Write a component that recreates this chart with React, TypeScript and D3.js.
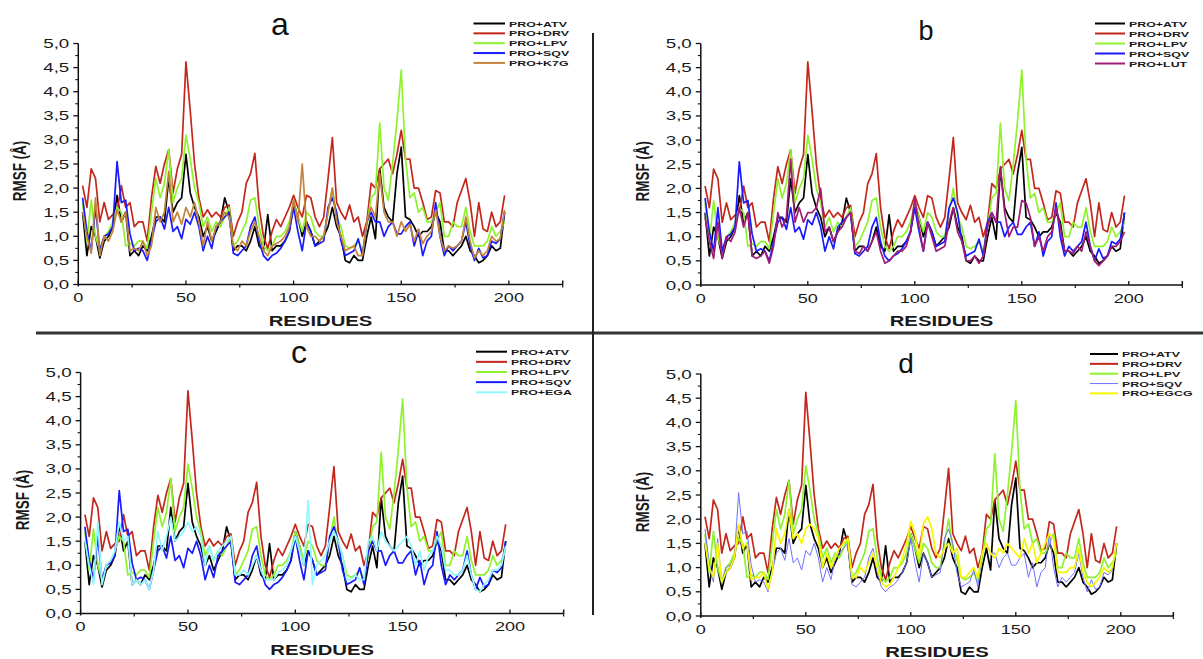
import React from 'react';
import * as d3 from 'd3';

// residue numbers (every second residue of the dimer, 2..198)
const residues = d3.range(2, 199, 2);

// RMSF values (Å)
const atv = [
  1.5, 0.6, 1.2, 1.0, 0.55, 0.9, 1.0, 1.2, 1.85, 1.3,
  1.5, 0.6, 0.7, 0.6, 0.8, 0.7, 1.0, 1.4, 1.4, 1.3,
  2.2, 1.5, 1.7, 1.8, 2.7, 1.9, 1.6, 1.4, 1.0, 1.2,
  0.9, 1.1, 1.3, 1.8, 1.5, 0.7, 0.8, 0.8, 0.7, 0.9,
  1.2, 0.8, 0.7, 1.45, 0.7, 0.8, 0.8, 0.9, 1.1, 1.7,
  1.4, 1.0, 1.3, 1.1, 0.8, 0.9, 1.0, 1.2, 1.6, 1.2,
  1.0, 0.5, 0.45, 0.6, 0.5, 0.5, 1.0, 1.4, 0.95, 2.4,
  1.6, 1.4, 1.3, 2.3, 2.85, 1.4, 1.35, 1.2, 1.0, 1.1,
  1.1, 1.2, 1.5, 1.3, 0.7, 0.7, 0.6, 0.7, 0.8, 1.0,
  0.7, 0.6, 0.45, 0.5, 0.6, 0.8, 0.7, 0.75, 1.5
];
const drv = [
  2.05, 1.6, 2.4, 2.2, 1.3, 1.7, 1.35, 1.45, 1.5, 2.05,
  1.6, 1.7, 1.2, 1.3, 1.3, 0.9, 1.8, 2.45, 2.1, 2.5,
  2.8, 1.9, 2.4, 2.7, 4.62, 3.6, 2.5, 1.8, 1.4, 1.55,
  1.4, 1.5, 1.4, 1.6, 1.65, 1.0, 1.3, 1.5, 2.1, 2.3,
  2.72, 1.6, 1.0, 0.75, 1.1, 1.35, 1.2, 1.4, 1.6, 1.85,
  1.6, 1.4, 1.85, 1.8, 1.4, 1.2, 1.4, 2.2, 3.05, 1.7,
  1.5, 1.35, 1.65, 1.3, 1.4, 1.0, 1.3, 2.1, 2.0, 2.4,
  2.5, 2.6, 2.3, 2.7, 3.2, 2.6, 2.6, 2.0, 2.0, 1.7,
  1.35, 1.4, 1.95, 1.9, 1.3, 1.3, 1.2, 1.7, 1.95, 2.2,
  1.7, 1.0, 1.7, 1.15, 1.1, 1.5, 1.2, 1.3, 1.85
];
const lpv = [
  1.7, 0.9, 1.75, 1.0, 0.7, 1.0, 1.1, 1.3, 1.6, 1.5,
  0.8, 0.85, 0.8, 0.9, 0.9, 0.75, 1.5, 2.2, 1.8, 2.1,
  2.8, 1.7, 2.0, 2.2, 3.1, 2.6, 2.0, 1.7, 1.2, 1.4,
  1.1, 1.3, 1.2, 1.4, 1.6, 0.8, 0.9, 1.1, 1.3, 1.75,
  1.8, 1.2, 0.8, 0.7, 0.8, 1.0, 1.0, 1.1, 1.3, 1.7,
  1.4, 1.1, 1.5, 1.4, 1.1, 1.0, 1.0, 1.5, 2.0, 1.4,
  1.2, 0.8, 0.75, 0.8, 0.9, 0.7, 1.2, 1.8, 1.9, 3.35,
  2.0, 1.75, 2.5, 3.4, 4.45, 2.6, 1.8, 1.9, 1.5, 1.6,
  1.3, 1.3, 1.5, 1.7, 1.0, 1.0, 1.3, 1.2, 1.2, 1.6,
  1.1, 0.8, 0.8, 0.8, 0.9, 1.2, 1.0, 1.1, 1.3
];
const sqv = [
  1.8, 1.1, 0.7, 1.6, 0.7, 1.0, 1.05, 1.2, 2.55, 1.7,
  1.75, 1.05, 0.7, 0.75, 0.7, 0.5, 0.9, 1.3, 1.4, 1.15,
  1.6, 1.1, 1.2, 0.95, 1.35, 1.25, 1.5, 1.2, 0.7, 1.0,
  0.75, 1.2, 1.3, 1.4, 1.5, 0.65, 0.6, 0.7, 0.8, 1.2,
  1.4, 0.9, 0.6, 0.5, 0.6, 0.65, 0.75, 0.9, 1.1, 1.6,
  1.1, 0.7, 1.3, 1.1, 0.8, 0.85, 0.9, 1.6, 1.8, 1.5,
  0.9, 0.6, 0.65, 0.7, 0.95, 0.6, 1.3, 1.5, 1.3, 1.3,
  1.0, 1.2, 1.3, 1.05, 1.05, 1.2, 1.3, 0.8, 1.1, 0.6,
  0.9, 1.0, 1.7, 1.0, 0.6, 0.8, 0.7, 0.8, 0.9, 1.3,
  0.8, 0.5, 0.75, 0.55, 0.6, 0.9, 0.85, 0.95, 1.5
];
const k7g = [
  1.5, 1.0, 0.65, 1.8, 0.6, 1.0, 0.9, 1.1, 1.55, 1.3,
  1.5, 0.7, 0.75, 0.7, 0.9, 0.6, 0.8, 1.6, 1.3, 1.5,
  2.35, 1.3, 1.5, 1.25, 1.6, 1.4, 1.7, 1.3, 0.8, 1.3,
  0.9, 1.2, 1.3, 1.5, 1.4, 0.8, 0.7, 0.9, 0.8, 1.1,
  1.3, 1.0, 0.7, 0.6, 0.8, 0.85, 0.9, 1.0, 1.2, 1.75,
  1.3, 2.5, 1.2, 1.0, 1.0, 0.9, 1.0, 1.5, 2.0, 1.3,
  1.0, 0.7, 0.75, 0.8, 0.6, 0.6, 1.3, 1.6, 1.4, 2.3,
  1.5, 1.3, 1.3, 1.0, 1.3, 1.1, 1.25, 0.9, 1.15, 0.85,
  1.0, 1.1, 1.55, 1.0, 0.7, 0.8, 0.75, 0.8, 0.9, 1.4,
  0.9, 0.55, 0.7, 0.6, 0.7, 1.0, 0.9, 0.95, 1.55
];
const lut = [
  1.4, 0.9, 0.55, 1.3, 0.55, 1.0, 0.9, 1.1, 1.6, 1.2,
  1.5, 0.6, 0.55, 0.6, 0.7, 0.45, 0.8, 1.5, 1.2, 1.4,
  2.6, 1.3, 1.6, 1.3, 1.5, 1.5, 1.6, 2.0, 1.1, 1.2,
  0.9, 1.1, 1.2, 1.4, 1.5, 0.7, 0.65, 0.8, 0.7, 0.9,
  1.1, 0.7, 0.45, 0.5, 0.6, 0.7, 0.7, 0.8, 1.1, 1.8,
  1.2, 0.7, 1.3, 1.0, 0.7, 0.75, 0.8, 1.3, 1.6, 1.1,
  0.9, 0.5, 0.5, 0.6, 0.45, 0.6, 1.2, 1.5, 1.3, 2.45,
  1.5, 1.0, 1.2, 1.2, 1.75, 1.7, 1.4, 0.8, 1.0, 0.7,
  1.0, 1.1, 1.6, 1.2, 0.7, 0.7, 0.65, 0.8, 0.7, 1.1,
  0.8, 0.5, 0.4, 0.5, 0.6, 0.8, 0.8, 0.9, 1.1
];
const ega = [
  1.5, 1.0, 0.6, 1.9, 0.6, 1.0, 1.1, 1.3, 1.9, 1.5,
  1.6, 0.6, 0.7, 0.6, 0.7, 0.5, 0.9, 1.7, 1.3, 1.6,
  2.0, 1.5, 1.6, 1.7, 1.9, 1.7, 1.8, 1.6, 1.0, 1.4,
  1.1, 1.3, 1.4, 1.5, 1.6, 0.8, 0.8, 0.9, 0.8, 1.0,
  1.2, 0.9, 0.7, 0.7, 0.7, 0.85, 0.9, 1.0, 1.3, 1.6,
  1.3, 1.0, 2.35, 0.6, 1.0, 1.1, 1.2, 1.5, 1.7, 1.5,
  1.2, 0.7, 0.7, 0.8, 0.7, 0.7, 1.5, 1.6, 1.3, 1.7,
  1.5, 1.4, 1.3, 1.4, 1.5, 1.6, 1.4, 1.0, 1.3, 0.9,
  1.2, 1.3, 1.6, 1.4, 0.9, 0.9, 0.8, 0.8, 0.9, 1.2,
  0.8, 0.5, 0.45, 0.6, 0.7, 0.9, 0.9, 1.0, 1.4
];
const egcg = [
  1.5, 1.0, 0.8, 1.5, 0.7, 0.9, 1.0, 1.2, 1.9, 1.4,
  1.5, 0.75, 0.8, 0.8, 0.9, 0.55, 0.9, 1.8, 1.5, 1.7,
  2.2, 1.6, 1.7, 1.5, 1.8, 1.9, 1.8, 1.6, 1.0, 1.3,
  1.0, 1.2, 1.4, 1.5, 1.6, 0.8, 0.8, 1.0, 0.9, 1.1,
  1.3, 1.0, 0.7, 0.6, 0.65, 0.8, 1.0, 1.2, 1.5, 1.95,
  1.7, 1.2, 1.9, 2.05, 1.8, 1.3, 1.2, 1.4, 1.5, 1.3,
  1.4, 0.8, 0.8, 0.9, 1.0, 0.8, 1.3, 1.5, 1.3, 1.2,
  1.4, 1.3, 1.5, 1.4, 1.3, 1.2, 1.6, 1.3, 1.5, 1.1,
  1.3, 1.5, 1.7, 1.6, 0.9, 0.9, 0.9, 1.0, 1.0, 1.4,
  0.9, 0.7, 0.6, 0.7, 0.8, 1.0, 0.9, 1.0, 1.5
];

const xTicks = [0, 50, 100, 150, 200];
const yTicks = [0, 0.5, 1, 1.5, 2, 2.5, 3, 3.5, 4, 4.5, 5];

const base = [
  { name: 'PRO+ATV', values: atv, color: '#000000' },
  { name: 'PRO+DRV', values: drv, color: '#c3271b' },
  { name: 'PRO+LPV', values: lpv, color: '#8ef22c' },
  { name: 'PRO+SQV', values: sqv, color: '#1a1aff' },
];

const panels = [
  { title: 'a', x0: 78.3, kx: 2.153, yb: 284.5, yt: 43.5, tx: 280, ty: 35, ts: 32,
    lx: 473.5, ly: 23.5, lstep: 9.85, llen: 31.5,
    series: [...base, { name: 'PRO+K7G', values: k7g, color: '#c4823a' }] },
  { title: 'b', x0: 700.8, kx: 2.14, yb: 285, yt: 43.5, tx: 926, ty: 40, ts: 27,
    lx: 1095, ly: 23.5, lstep: 10, llen: 30,
    series: [...base, { name: 'PRO+LUT', values: lut, color: '#a01c78' }] },
  { title: 'c', x0: 80.6, kx: 2.147, yb: 613.5, yt: 372.5, tx: 299, ty: 363, ts: 32,
    lx: 476, ly: 351.7, lstep: 10.15, llen: 31,
    series: [...base, { name: 'PRO+EGA', values: ega, color: '#8ff8ff' }] },
  { title: 'd', x0: 700.8, kx: 2.1, yb: 616, yt: 374, tx: 906, ty: 373, ts: 28,
    lx: 1090, ly: 354, lstep: 9.85, llen: 28,
    series: [...base.slice(0, 3), { name: 'PRO+SQV', values: sqv, color: '#7070ff', thin: true },
      { name: 'PRO+EGCG', values: egcg, color: '#f6f600' }] },
];

const FONT = '"Liberation Sans", Arial, sans-serif';
const fmt = (v: number) => d3.format('.1f')(v).replace('.', ',');

function Stretch({ x, y, sx, anchor, size, weight, children }: any) {
  return (
    <text transform={`translate(${x},${y}) scale(${sx},1)`} textAnchor={anchor}
      fontFamily={FONT} fontSize={size} fontWeight={weight || 'normal'} fill="#1a1a1a">
      {children}
    </text>
  );
}

function Panel({ p }: any) {
  const x = d3.scaleLinear().domain([0, 225]).range([p.x0, p.x0 + 225 * p.kx]);
  const y = d3.scaleLinear().domain([0, 5]).range([p.yb, p.yt]);
  const line = d3.line<number>().x((d, i) => x(residues[i])).y(d => y(d));
  const minorX = d3.range(25, 226, 50);
  const minorY = d3.range(0.25, 5, 0.5);
  return (
    <g>
      {p.series.map((s: any) => (
        <path key={s.name} d={line(s.values) || ''} fill="none" stroke={s.color}
          strokeWidth={s.thin ? 1 : 1.7} strokeLinejoin="round" />
      ))}
      {/* axes */}
      <line x1={x(0)} x2={x(225)} y1={y(0)} y2={y(0)} stroke="#111" strokeWidth={1.5} />
      <line x1={x(0)} x2={x(0)} y1={y(0) + 2} y2={y(5)} stroke="#111" strokeWidth={1.5} />
      <line x1={x(225)} x2={x(225)} y1={y(0)} y2={y(0) - 4} stroke="#111" strokeWidth={1.5} />
      {xTicks.map(t => (
        <g key={t}>
          <line x1={x(t)} x2={x(t)} y1={y(0)} y2={y(0) - 4} stroke="#111" strokeWidth={1.3} />
          <Stretch x={x(t)} y={y(0) + 17.5} sx={1.45} anchor="middle" size={12.5}>{t}</Stretch>
        </g>
      ))}
      {minorX.map(t => (
        <line key={t} x1={x(t)} x2={x(t)} y1={y(0)} y2={y(0) + 3} stroke="#111" strokeWidth={1.2} />
      ))}
      {yTicks.map(t => (
        <g key={t}>
          <line x1={x(0) - 5} x2={x(0)} y1={y(t)} y2={y(t)} stroke="#111" strokeWidth={1.3} />
          <Stretch x={x(0) - 9} y={y(t) + 4.5} sx={1.5} anchor="end" size={12.5}>{fmt(t)}</Stretch>
        </g>
      ))}
      {minorY.map(t => (
        <line key={t} x1={x(0) - 3} x2={x(0)} y1={y(t)} y2={y(t)} stroke="#111" strokeWidth={1.1} />
      ))}
      <text transform={`translate(${x(0) - 52},${(y(0) + y(5)) / 2 + 7}) rotate(-90) scale(1,1.35)`}
        textAnchor="middle" fontFamily={FONT} fontSize={13.5} fontWeight="bold" fill="#1a1a1a">RMSF (Å)</text>
      <Stretch x={x(112.5)} y={y(0) + 41} sx={1.4} anchor="middle" size={14.5} weight="bold">RESIDUES</Stretch>
      <text x={p.tx} y={p.ty} textAnchor="middle" fontFamily={FONT} fontSize={p.ts} fill="#111">{p.title}</text>
      {p.series.map((s: any, i: number) => (
        <g key={s.name}>
          <line x1={p.lx} x2={p.lx + p.llen} y1={p.ly + i * p.lstep} y2={p.ly + i * p.lstep}
            stroke={s.color} strokeWidth={s.thin ? 1 : 2} />
          <Stretch x={p.lx + p.llen + 4} y={p.ly + i * p.lstep + 3} sx={1.55} anchor="start" size={8} weight="bold">{s.name}</Stretch>
        </g>
      ))}
    </g>
  );
}

export default function App() {
  return (
    <svg width={1203} height={659} style={{ position: 'absolute', left: 0, top: 0, background: '#fff' }}>
      <rect width={1203} height={659} fill="#fff" />
      {panels.map(p => <Panel key={p.title} p={p} />)}
      <line x1={36} x2={1203} y1={333} y2={333} stroke="#333" strokeWidth={3} />
      <line x1={593} x2={593} y1={33} y2={615} stroke="#222" strokeWidth={2} />
    </svg>
  );
}
